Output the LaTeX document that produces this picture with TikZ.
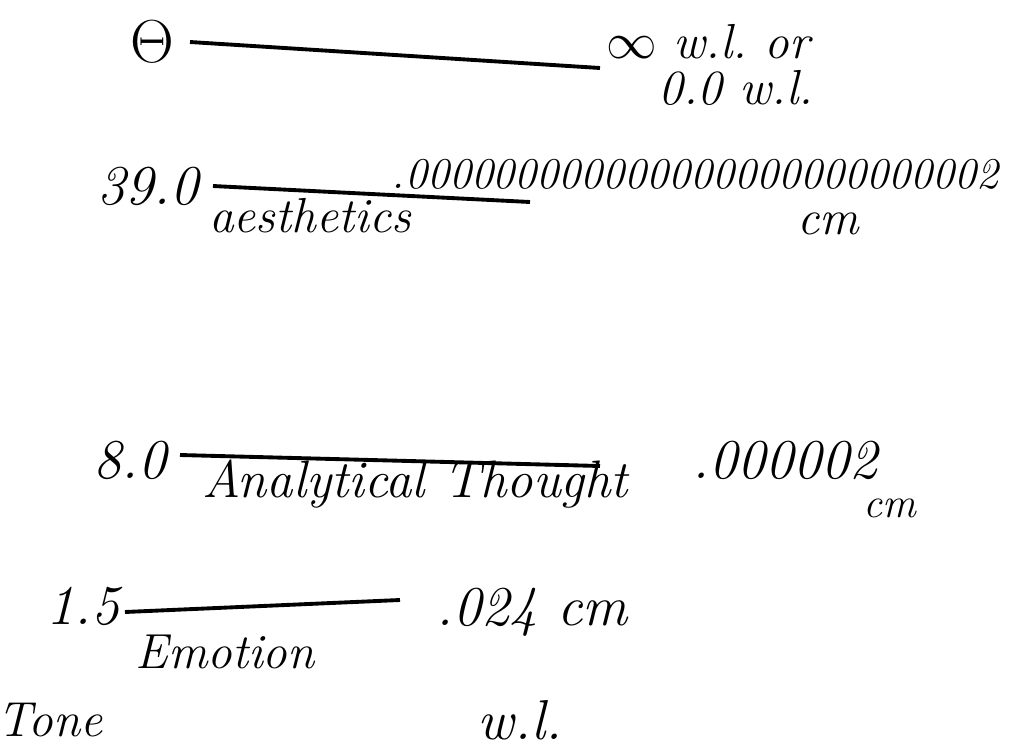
\documentclass[tikz,border=0pt]{standalone}
\usepackage{tikz}
\usetikzlibrary{positioning}
\tikzstyle{hand}=[font=\itshape\fontsize{14pt}{16pt}\selectfont, inner sep=0pt]
\tikzstyle{big}=[font=\itshape\fontsize{16pt}{18pt}\selectfont, inner sep=0pt]
\tikzstyle{small}=[font=\itshape\fontsize{12pt}{14pt}\selectfont, inner sep=0pt]

\begin{document}
\begin{tikzpicture}[x=0.1mm, y=-0.1mm]

\tikzset{every path/.style={line width=1.1pt}}
\useasboundingbox (0,0) rectangle (1014,752);

% Theta row
\node[big] (theta) at (152,42) {$\Theta$};
\coordinate (theta-a) at (190,42);
\coordinate (theta-b) at (600,68);
\draw (theta-a) -- (theta-b);
\node[hand] (inf) at (708,42) {$\infty$ w.l.\ or};
\node[hand] (zero) at (736,88) {0.0 w.l.};

% Aesthetics row
\node[big] (thirtynine) at (148,186) {39.0};
\coordinate (aes-a) at (213,186);
\coordinate (aes-b) at (530,202);
\draw (aes-a) -- (aes-b);
\node[small, anchor=west, font=\itshape\fontsize{12.5pt}{14pt}\selectfont] (aesval) at (390,174) {.000000000000000000000000002};
\node[hand] (aes) at (310,216) {aesthetics};
\node[hand] (aescm) at (828,224) {cm};

% Analytical thought row
\node[big] (eight) at (130,460) {8.0};
\coordinate (ana-a) at (180,455);
\coordinate (ana-b) at (600,466);
\draw (ana-a) -- (ana-b);
\node[hand, font=\itshape\fontsize{15pt}{17pt}\selectfont] (ana) at (415,484) {Analytical Thought};
\node[big] (anaval) at (785,460) {.000002};
\node[small] (anacm) at (890,508) {cm};

% Emotion row
\node[big] (onefive) at (83,606) {1.5};
\coordinate (emo-a) at (125,612);
\coordinate (emo-b) at (400,600);
\draw (emo-a) -- (emo-b);
\node[big] (emoval) at (532,612) {.024 cm};
\node[hand] (emo) at (225,652) {Emotion};
\node[hand] (tone) at (50,720) {Tone};
\node[big] (wl) at (520,720) {w.l.};

\end{tikzpicture}
\end{document}
